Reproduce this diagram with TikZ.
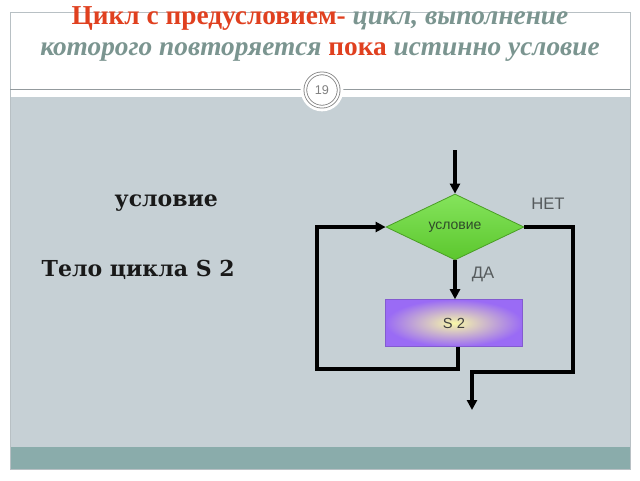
\documentclass[tikz,border=0pt]{standalone}
\usepackage{fontspec}
\setmainfont{Liberation Serif}
\newfontfamily\flsans{Liberation Sans}
\newfontfamily\wideserif{DejaVu Serif}
\usetikzlibrary{shapes.geometric,arrows.meta}
\definecolor{bgray}{HTML}{C6D0D5}
\definecolor{tealbar}{HTML}{8AACAB}
\definecolor{framegray}{HTML}{B8C0C4}
\definecolor{tred}{HTML}{E0401F}
\definecolor{tgray}{HTML}{7B9590}
\definecolor{dgreen}{HTML}{66DD33}
\definecolor{dgreenedge}{HTML}{4A9E25}
\definecolor{dtext}{HTML}{2F4A2A}
\definecolor{purp}{HTML}{9A6BF5}
\definecolor{yel}{HTML}{F8F8A8}
\definecolor{lbl}{HTML}{555A5C}
\begin{document}
\begin{tikzpicture}[x=0.75pt,y=-0.75pt,
  flow/.style={line width=2.4pt,black},
  arr/.style={flow,-{Triangle[length=7.5pt,width=7.5pt]}},
  cond/.style={diamond,draw=dgreenedge,line width=0.6pt,top color=dgreen!80!white,bottom color=dgreen!90!black,
    minimum width=103.5pt,minimum height=49.5pt,inner sep=0pt,font=\flsans\fontsize{10.5}{12}\selectfont,text=dtext},
  body/.style={rectangle,draw=purp!85!black,line width=0.4pt,inner color=yel,outer color=purp,
    minimum width=102.75pt,minimum height=35.25pt,inner sep=0pt,font=\flsans\fontsize{11}{13}\selectfont,text=black!75},
  lbltext/.style={font=\flsans\fontsize{12.5}{14}\selectfont,text=lbl},
  lefttext/.style={font=\wideserif\bfseries\fontsize{16.5}{20}\selectfont,text=black!90,anchor=west}
]
\useasboundingbox (0,0) rectangle (640,480);
\fill[white] (0,0) rectangle (640,480);
% slide background
\fill[bgray] (10,97) rectangle (630,447);
\fill[tealbar] (10,447) rectangle (630,469);
\draw[framegray,line width=0.6pt] (10,12) rectangle (630,469);
\draw[framegray!80!black,line width=0.6pt] (10,89) -- (630,89);
\node[circle,fill=white,minimum size=32pt,inner sep=0pt] (pgc) at (322,90) {};
\node[circle,draw=gray,double=white,double distance=1.5pt,line width=0.6pt,minimum size=25pt,inner sep=0pt,
  font=\flsans\fontsize{9.5}{10}\selectfont,text=gray] (pg) at (322,90) {19};
% title
\node[font=\fontsize{20.5}{24}\selectfont] (t1) at (320,18)
  {\textbf{\color{tred}Цикл с предусловием-} \textbf{\itshape\color{tgray}цикл, выполнение}};
\node[font=\fontsize{20.5}{24}\selectfont] (t2) at (320,52)
  {\textbf{\itshape\color{tgray}которого повторяется} \textbf{\color{tred}пока} \textbf{\itshape\color{tgray}истинно условие}};
% left texts
\node[lefttext] (l1) at (110,203) {условие};
\node[lefttext] (l2) at (37,270) {Тело цикла S 2};
% flowchart
\node[cond] (c) at (455,227) {условие};
\node[body] (s2) at (454,323) {S 2};
\coordinate (in) at (455,150);
\coordinate (out) at (472,410);
\node[lbltext] (net) at (548,204) {НЕТ};
\node[lbltext] (da) at (483,274) {ДА};
\draw[arr] (in) -- (c.north);
\draw[arr] (c.south) -- (c.south |- s2.north);
\draw[arr] ([xshift=3pt]s2.south) |- (317,369) |- (c.west);
\draw[arr] (c.east) -| (573,372) -| (out);
\end{tikzpicture}
\end{document}
